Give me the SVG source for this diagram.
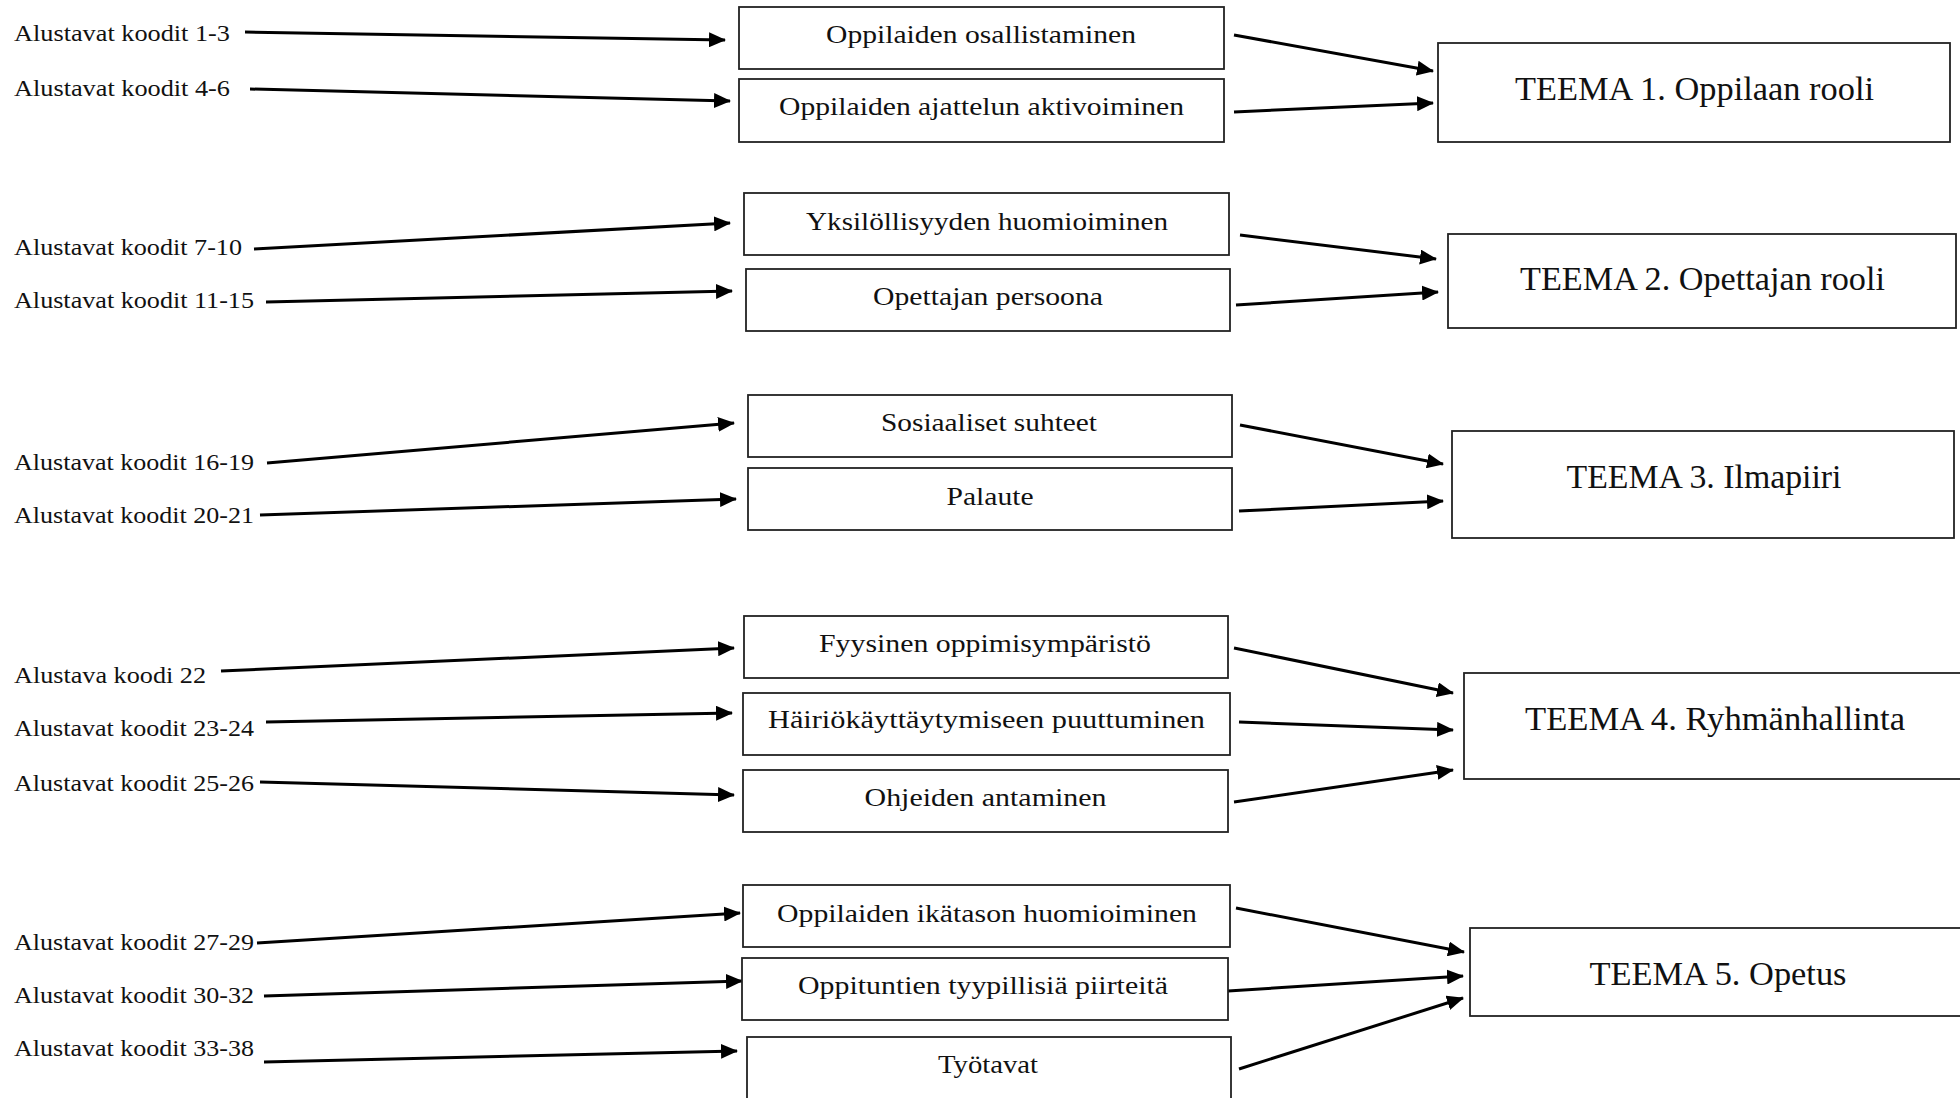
<svg xmlns="http://www.w3.org/2000/svg" width="1960" height="1098" viewBox="0 0 1960 1098">
<defs>
<style>
.bg{fill:#fff}
.box{fill:#fff;stroke:#222;stroke-width:1.8}
.lbl{font-family:"Liberation Serif","Times New Roman",serif;font-size:24px;fill:#111}
.mid{font-family:"Liberation Serif","Times New Roman",serif;font-size:26px;fill:#111;text-anchor:middle}
.th{font-family:"Liberation Serif","Times New Roman",serif;font-size:34px;fill:#111;text-anchor:middle}
.ed{stroke:#000;stroke-width:3;fill:none;marker-end:url(#ah)}
</style>
<marker id="ah" markerUnits="userSpaceOnUse" markerWidth="17" markerHeight="15" refX="16" refY="7.5" orient="auto">
<path d="M0,0 L17,7.5 L0,15 z" fill="#000"/>
</marker>
</defs>
<rect class="bg" x="0" y="0" width="1960" height="1098"/>

<g id="connectors">
<line class="ed" x1="245" y1="32" x2="725" y2="40"/>
<line class="ed" x1="250" y1="89" x2="730" y2="101"/>
<line class="ed" x1="254" y1="249" x2="730" y2="223"/>
<line class="ed" x1="266" y1="302" x2="732" y2="291"/>
<line class="ed" x1="267" y1="463" x2="734" y2="423"/>
<line class="ed" x1="260" y1="515" x2="736" y2="499"/>
<line class="ed" x1="221" y1="671" x2="734" y2="648"/>
<line class="ed" x1="266" y1="722" x2="732" y2="713"/>
<line class="ed" x1="260" y1="782" x2="734" y2="795"/>
<line class="ed" x1="257" y1="943" x2="740" y2="913"/>
<line class="ed" x1="264" y1="996" x2="742" y2="981"/>
<line class="ed" x1="264" y1="1062" x2="737" y2="1051"/>

<line class="ed" x1="1234" y1="35" x2="1433" y2="71"/>
<line class="ed" x1="1234" y1="112" x2="1433" y2="103"/>
<line class="ed" x1="1240" y1="235" x2="1436" y2="259"/>
<line class="ed" x1="1236" y1="305" x2="1438" y2="292"/>
<line class="ed" x1="1240" y1="425" x2="1443" y2="464"/>
<line class="ed" x1="1239" y1="511" x2="1443" y2="501"/>
<line class="ed" x1="1234" y1="648" x2="1453" y2="693"/>
<line class="ed" x1="1239" y1="722" x2="1453" y2="730"/>
<line class="ed" x1="1234" y1="802" x2="1453" y2="770"/>
<line class="ed" x1="1236" y1="908" x2="1464" y2="952"/>
<line class="ed" x1="1228" y1="991" x2="1463" y2="976"/>
<line class="ed" x1="1239" y1="1069" x2="1463" y2="998"/>
</g>

<g id="labels">
<text id="l1" class="lbl" x="14" y="41" textLength="216" lengthAdjust="spacingAndGlyphs">Alustavat koodit 1-3</text>
<text id="l2" class="lbl" x="14" y="96" textLength="216" lengthAdjust="spacingAndGlyphs">Alustavat koodit 4-6</text>
<text id="l3" class="lbl" x="14" y="255" textLength="228" lengthAdjust="spacingAndGlyphs">Alustavat koodit 7-10</text>
<text id="l4" class="lbl" x="14" y="308" textLength="240" lengthAdjust="spacingAndGlyphs">Alustavat koodit 11-15</text>
<text id="l5" class="lbl" x="14" y="470" textLength="240" lengthAdjust="spacingAndGlyphs">Alustavat koodit 16-19</text>
<text id="l6" class="lbl" x="14" y="523" textLength="240" lengthAdjust="spacingAndGlyphs">Alustavat koodit 20-21</text>
<text id="l7" class="lbl" x="14" y="683" textLength="192" lengthAdjust="spacingAndGlyphs">Alustava koodi 22</text>
<text id="l8" class="lbl" x="14" y="736" textLength="240" lengthAdjust="spacingAndGlyphs">Alustavat koodit 23-24</text>
<text id="l9" class="lbl" x="14" y="791" textLength="240" lengthAdjust="spacingAndGlyphs">Alustavat koodit 25-26</text>
<text id="l10" class="lbl" x="14" y="950" textLength="240" lengthAdjust="spacingAndGlyphs">Alustavat koodit 27-29</text>
<text id="l11" class="lbl" x="14" y="1003" textLength="240" lengthAdjust="spacingAndGlyphs">Alustavat koodit 30-32</text>
<text id="l12" class="lbl" x="14" y="1056" textLength="240" lengthAdjust="spacingAndGlyphs">Alustavat koodit 33-38</text>
</g>

<g id="b1"><rect class="box" x="739" y="7" width="485" height="62"/><text class="mid" x="981" y="43" textLength="310" lengthAdjust="spacingAndGlyphs">Oppilaiden osallistaminen</text></g>
<g id="b2"><rect class="box" x="739" y="79" width="485" height="63"/><text class="mid" x="981.5" y="115" textLength="405" lengthAdjust="spacingAndGlyphs">Oppilaiden ajattelun aktivoiminen</text></g>
<g id="b3"><rect class="box" x="744" y="193" width="485" height="62"/><text class="mid" x="987" y="230" textLength="362" lengthAdjust="spacingAndGlyphs">Yksilöllisyyden huomioiminen</text></g>
<g id="b4"><rect class="box" x="746" y="269" width="484" height="62"/><text class="mid" x="988" y="305" textLength="230" lengthAdjust="spacingAndGlyphs">Opettajan persoona</text></g>
<g id="b5"><rect class="box" x="748" y="395" width="484" height="62"/><text class="mid" x="989" y="431" textLength="216" lengthAdjust="spacingAndGlyphs">Sosiaaliset suhteet</text></g>
<g id="b6"><rect class="box" x="748" y="468" width="484" height="62"/><text class="mid" x="990" y="505" textLength="87" lengthAdjust="spacingAndGlyphs">Palaute</text></g>
<g id="b7"><rect class="box" x="744" y="616" width="484" height="62"/><text class="mid" x="985" y="652" textLength="332" lengthAdjust="spacingAndGlyphs">Fyysinen oppimisympäristö</text></g>
<g id="b8"><rect class="box" x="743" y="693" width="487" height="62"/><text class="mid" x="986.5" y="728" textLength="437" lengthAdjust="spacingAndGlyphs">Häiriökäyttäytymiseen puuttuminen</text></g>
<g id="b9"><rect class="box" x="743" y="770" width="485" height="62"/><text class="mid" x="985.5" y="806" textLength="242" lengthAdjust="spacingAndGlyphs">Ohjeiden antaminen</text></g>
<g id="b10"><rect class="box" x="743" y="885" width="487" height="62"/><text class="mid" x="987" y="922" textLength="420" lengthAdjust="spacingAndGlyphs">Oppilaiden ikätason huomioiminen</text></g>
<g id="b11"><rect class="box" x="742" y="958" width="486" height="62"/><text class="mid" x="983" y="994" textLength="370" lengthAdjust="spacingAndGlyphs">Oppituntien tyypillisiä piirteitä</text></g>
<g id="b12"><rect class="box" x="747" y="1037" width="484" height="80"/><text class="mid" x="988" y="1073" textLength="100" lengthAdjust="spacingAndGlyphs">Työtavat</text></g>

<g id="t1"><rect class="box" x="1438" y="43" width="512" height="99"/><text class="th" x="1694.5" y="100" textLength="359" lengthAdjust="spacingAndGlyphs">TEEMA 1. Oppilaan rooli</text></g>
<g id="t2"><rect class="box" x="1448" y="234" width="508" height="94"/><text class="th" x="1702.5" y="290" textLength="365" lengthAdjust="spacingAndGlyphs">TEEMA 2. Opettajan rooli</text></g>
<g id="t3"><rect class="box" x="1452" y="431" width="502" height="107"/><text class="th" x="1704" y="488" textLength="275" lengthAdjust="spacingAndGlyphs">TEEMA 3. Ilmapiiri</text></g>
<g id="t4"><rect class="box" x="1464" y="673" width="510" height="106"/><text class="th" x="1715" y="730" textLength="380" lengthAdjust="spacingAndGlyphs">TEEMA 4. Ryhmänhallinta</text></g>
<g id="t5"><rect class="box" x="1470" y="928" width="510" height="88"/><text class="th" x="1718" y="985" textLength="257" lengthAdjust="spacingAndGlyphs">TEEMA 5. Opetus</text></g>
</svg>
